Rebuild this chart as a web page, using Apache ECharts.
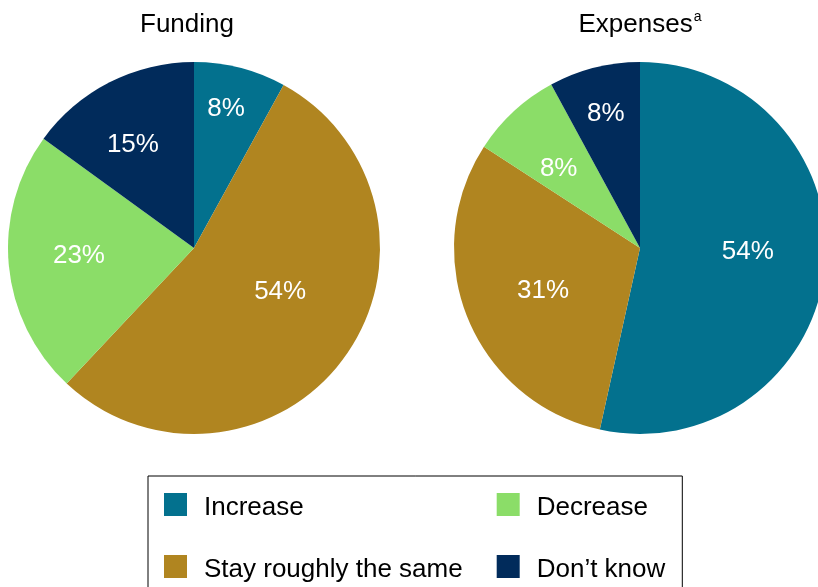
<!DOCTYPE html>
<html>
<head>
<meta charset="utf-8">
<script src="https://cdn.jsdelivr.net/npm/echarts@6/dist/echarts.min.js"></script>
<style>
html,body{margin:0;padding:0;background:#fff;}
#chart{width:818px;height:587px;}
</style>
</head>
<body>
<div id="chart"></div>
<script>
const categories = ['Increase', 'Stay roughly the same', 'Decrease', 'Don\u2019t know'];
const fundingValues = [8, 54, 23, 15];
const expensesValues = [54, 31, 8, 8];
const pieTitles = ['Funding', 'Expenses'];

const colors = ['#03718e', '#b08520', '#8bdd68', '#012b5b'];
// label placement styling: radial factor and angular nudge (degrees) per slice
const fundingLabelRadius = [0.77, 0.52, 0.62, 0.645];
const fundingLabelNudge = [-1.5, -9, 1.4, -3.6];
const expensesLabelRadius = [0.58, 0.57, 0.61, 0.745];
const expensesLabelNudge = [-4, -1.5, -3, 0];
const FONT = 'Arial, "Liberation Sans", Helvetica, sans-serif';
const R = 186;
const leftCenter = [194, 248];
const rightCenter = [640, 248];

function makeLayout(values, factors, nudges, center, r) {
  const total = values.reduce((a, b) => a + b, 0);
  return function (params) {
    const i = params.dataIndex;
    let before = 0;
    for (let k = 0; k < i; k++) before += values[k];
    const mid = (before + values[i] / 2) / total * 2 * Math.PI + nudges[i] * Math.PI / 180;
    return {
      x: center[0] + factors[i] * r * Math.sin(mid),
      y: center[1] - factors[i] * r * Math.cos(mid),
      align: 'center',
      verticalAlign: 'middle'
    };
  };
}

function pieSeries(values, center, factors, nudges) {
  return {
    type: 'pie',
    center: center,
    radius: [0, R],
    startAngle: 90,
    clockwise: true,
    avoidLabelOverlap: false,
    silent: true,
    emphasis: { disabled: true, scale: false },
    label: {
      show: true,
      position: 'inside',
      formatter: '{c}%',
      color: '#fff',
      fontSize: 26,
      fontFamily: FONT
    },
    labelLine: { show: false },
    labelLayout: makeLayout(values, factors, nudges, center, R),
    itemStyle: { borderWidth: 0 },
    data: categories.map((c, i) => ({
      name: c,
      value: values[i],
      itemStyle: { color: colors[i] }
    }))
  };
}

const chart = echarts.init(document.getElementById('chart'), null, { renderer: 'canvas' });
chart.setOption({
  animation: false,
  backgroundColor: '#fff',
  title: [
    {
      text: pieTitles[0],
      left: 187, top: 12, textAlign: 'center', padding: 0,
      textStyle: { fontSize: 26, fontWeight: 'normal', color: '#000', fontFamily: FONT }
    },
    {
      text: '{t|' + pieTitles[1] + '}{s|a}',
      left: 640, top: 10, textAlign: 'center', padding: 0,
      textStyle: {
        fontSize: 26, fontWeight: 'normal', color: '#000', fontFamily: FONT,
        rich: {
          t: { fontSize: 26, color: '#000', fontFamily: FONT, lineHeight: 30 },
          s: { fontSize: 14, color: '#000', fontFamily: FONT, verticalAlign: 'top', padding: [0, 0, 0, 1] }
        }
      }
    }
  ],
  legend: {
    orient: 'vertical',
    left: 148,
    top: 476,
    height: 90,
    padding: [17, 17, 16, 16],
    itemGap: 34,
    itemWidth: 23,
    itemHeight: 23,
    icon: 'rect',
    borderColor: '#000',
    borderWidth: 1,
    selectedMode: false,
    data: [categories[0], categories[1], categories[2], categories[3]],
    formatter: '{t|{name}}',
    textStyle: {
      fontSize: 26, color: '#000', fontFamily: FONT, padding: [0, 0, 0, 12],
      rich: {
        t: { fontSize: 26, color: '#000', fontFamily: FONT, padding: [7, 0, 0, 0] }
      }
    }
  },
  series: [
    pieSeries(fundingValues, leftCenter, fundingLabelRadius, fundingLabelNudge),
    pieSeries(expensesValues, rightCenter, expensesLabelRadius, expensesLabelNudge)
  ]
});
</script>
</body>
</html>
